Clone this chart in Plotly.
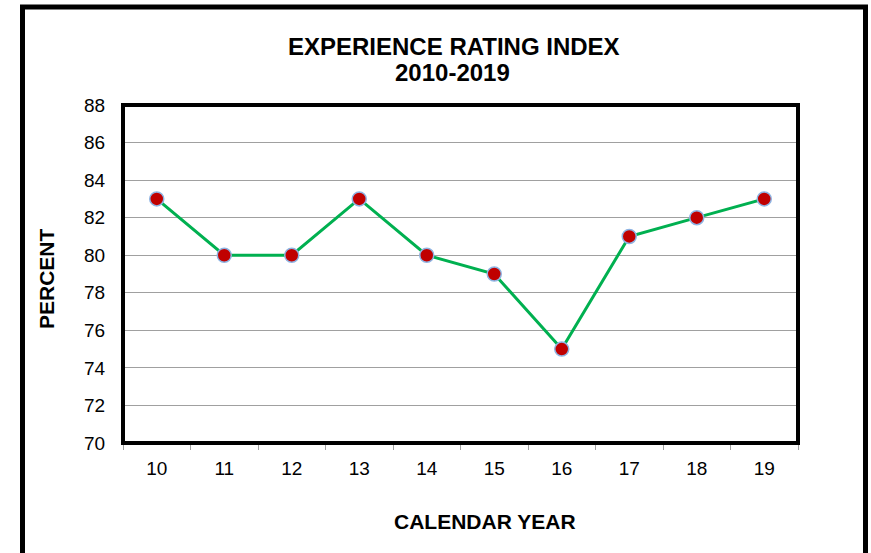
import plotly.graph_objects as go

years = ["10", "11", "12", "13", "14", "15", "16", "17", "18", "19"]
percent = [83, 80, 80, 83, 80, 79, 75, 81, 82, 83]
y_ticks = [70, 72, 74, 76, 78, 80, 82, 84, 86, 88]

FONT = "Liberation Sans, Arial, sans-serif"

# plot area in pixels: x 123..798, y 105..443
L, R, T, B = 123, 798, 105, 443
W, H = 871, 553
pw, ph = R - L, B - T

def px(x):
    return (x - L) / pw

def py(y):
    return (B - y) / ph

fig = go.Figure()
fig.add_trace(go.Scatter(
    x=years, y=percent, mode="lines+markers",
    line=dict(color="#00B050", width=3),
    marker=dict(size=14, color="#C00000", line=dict(color="#8EB4E3", width=1.5)),
    hoverinfo="x+y", showlegend=False,
))

fig.update_layout(
    width=W, height=H,
    margin=dict(l=L, r=W - R, t=T, b=H - B, pad=0),
    paper_bgcolor="white", plot_bgcolor="white",
    font=dict(family=FONT, color="black", size=18),
    xaxis=dict(
        type="category", range=[-0.5, 9.5], tickson="boundaries",
        ticks="outside", ticklen=6, tickcolor="#A0A0A0", tickwidth=1,
        showgrid=False, showline=False, zeroline=False,
        tickfont=dict(size=19, family=FONT), ticklabelstandoff=12,
    ),
    yaxis=dict(
        range=[70, 88], tickvals=y_ticks, ticktext=[str(v) for v in y_ticks],
        ticks="outside", ticklen=13, tickcolor="rgba(0,0,0,0)",
        showgrid=True, gridcolor="#A0A0A0", gridwidth=1,
        showline=False, zeroline=False,
        tickfont=dict(size=19, family=FONT),
    ),
    shapes=[
        dict(type="rect", xref="paper", yref="paper", x0=0, x1=1, y0=0, y1=1,
             line=dict(color="black", width=4), layer="above"),
        dict(type="rect", xref="paper", yref="paper",
             x0=px(22.5), x1=px(865.5), y0=py(7), y1=py(580),
             line=dict(color="black", width=5), layer="above"),
    ],
    annotations=[
        dict(text="<b>EXPERIENCE RATING INDEX</b>", xref="paper", yref="paper",
             x=px(454), y=py(46), showarrow=False, xanchor="center", yanchor="middle",
             font=dict(size=24, family=FONT)),
        dict(text="<b>2010-2019</b>", xref="paper", yref="paper",
             x=px(452), y=py(73), showarrow=False, xanchor="center", yanchor="middle",
             font=dict(size=24, family=FONT)),
        dict(text="<b>PERCENT</b>", xref="paper", yref="paper",
             x=px(46), y=py(279), showarrow=False, xanchor="center", yanchor="middle",
             textangle=-90, font=dict(size=21, family=FONT)),
        dict(text="<b>CALENDAR YEAR</b>", xref="paper", yref="paper",
             x=px(485), y=py(521), showarrow=False, xanchor="center", yanchor="middle",
             font=dict(size=21, family=FONT)),
    ],
)

fig.write_html("out.html", config={"displayModeBar": False},
               post_script="document.body.style.margin='0';")
